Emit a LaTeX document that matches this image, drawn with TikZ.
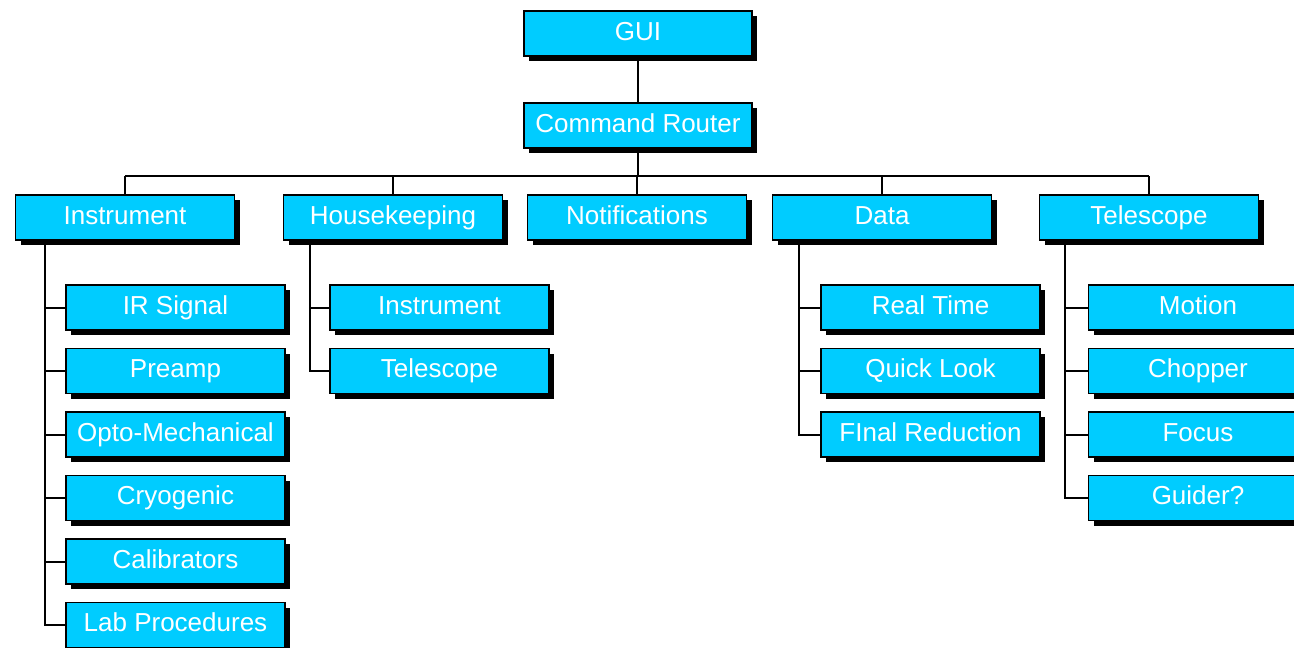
\documentclass[tikz,border=0pt]{standalone}
\usepackage{fontspec}
\setmainfont{Liberation Sans}
\usetikzlibrary{shadows}
\definecolor{boxcyan}{HTML}{00CCFF}
\begin{document}
\begin{tikzpicture}[x=1pt,y=-1pt,
  box/.style={draw=black, line width=1.5pt, fill=boxcyan, text=white,
    minimum width=219pt, minimum height=45pt, inner sep=0pt,
    text height=19pt, text depth=6pt,
    font=\fontsize{26}{30}\selectfont,
    drop shadow={shadow xshift=5pt, shadow yshift=-5pt, opacity=1, fill=black}},
  wide/.style={minimum width=228pt},
  link/.style={draw=black, line width=2pt}]
\useasboundingbox (0,0) rectangle (1294,648);
\clip (0,0) rectangle (1294,648);

% top of the hierarchy
\node[box,wide] (gui) at (638,33.5) {GUI};
\node[box,wide] (router) at (638,125.5) {Command Router};

% subsystems
\node[box] (inst) at (125,217.5) {Instrument};
\node[box] (hk)   at (393,217.5) {Housekeeping};
\node[box] (note) at (637,217.5) {Notifications};
\node[box] (data) at (882,217.5) {Data};
\node[box] (tel)  at (1149,217.5) {Telescope};

% instrument components
\node[box] (i1) at (175.5,307.5) {IR Signal};
\node[box] (i2) at (175.5,371) {Preamp};
\node[box] (i3) at (175.5,434.5) {Opto-Mechanical};
\node[box] (i4) at (175.5,498) {Cryogenic};
\node[box] (i5) at (175.5,561.5) {Calibrators};
\node[box] (i6) at (175.5,625) {Lab Procedures};

% housekeeping components
\node[box] (h1) at (439.5,307.5) {Instrument};
\node[box] (h2) at (439.5,371) {Telescope};

% data components
\node[box] (d1) at (930.5,307.5) {Real Time};
\node[box] (d2) at (930.5,371) {Quick Look};
\node[box] (d3) at (930.5,434.5) {FInal Reduction};

% telescope components
\node[box] (t1) at (1198,307.5) {Motion};
\node[box] (t2) at (1198,371) {Chopper};
\node[box] (t3) at (1198,434.5) {Focus};
\node[box] (t4) at (1198,498) {Guider?};

% connectors
\coordinate (bus) at ([yshift=-27.5pt]router.south);
\path[link] (gui.south) -- (router.north);
\path[link] (router.south) -- (bus);
\path[link] (bus -| inst.north) -- (bus -| tel.north);
\foreach \n in {inst,hk,note,data,tel}
  \path[link] (bus -| \n.north) -- (\n.north);

\coordinate (instT) at ([xshift=30pt]inst.south west);
\coordinate (hkT)   at ([xshift=27pt]hk.south west);
\coordinate (dataT) at ([xshift=27pt]data.south west);
\coordinate (telT)  at ([xshift=26pt]tel.south west);

\foreach \c in {i1,i2,i3,i4,i5,i6}
  \path[link] (instT) |- (\c.west);
\foreach \c in {h1,h2}
  \path[link] (hkT) |- (\c.west);
\foreach \c in {d1,d2,d3}
  \path[link] (dataT) |- (\c.west);
\foreach \c in {t1,t2,t3,t4}
  \path[link] (telT) |- (\c.west);
\end{tikzpicture}
\end{document}
